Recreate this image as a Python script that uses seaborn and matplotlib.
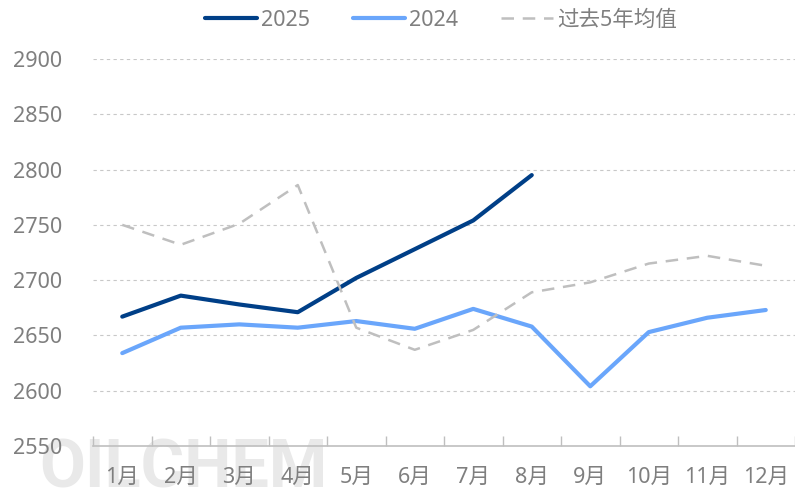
import seaborn as sns
import matplotlib.pyplot as plt
import pandas as pd

# chart values
months = ["1月", "2月", "3月", "4月", "5月", "6月", "7月", "8月", "9月", "10月", "11月", "12月"]
y2025 = [2667, 2686, 2678, 2671, 2702, 2728, 2754, 2795]
y2024 = [2634, 2657, 2660, 2657, 2663, 2656, 2674, 2658, 2604, 2653, 2666, 2673]
avg5 = [2750, 2732, 2751, 2786, 2657, 2637, 2655, 2689, 2698, 2715, 2722, 2713]
yticks = [2550, 2600, 2650, 2700, 2750, 2800, 2850, 2900]

sns.set_style("white")
plt.rcParams["font.family"] = ["Noto Sans", "Noto Sans CJK SC", "DejaVu Sans"]

text_color = "#7f7f7f"
fs = 15.5

fig = plt.figure(figsize=(7.95, 5), dpi=100)
ax = fig.add_axes([0.117, 0.108, 0.883, 0.774])
ax.patch.set_alpha(0)

# faint watermark behind the lower-left corner
fig.text(0.05, 0.025, "OILCHEM", fontsize=48, fontweight="bold", color="#e9e9e9",
         family=["Roboto", "DejaVu Sans"], zorder=-5)

df25 = pd.DataFrame({"x": range(len(y2025)), "y": y2025})
df24 = pd.DataFrame({"x": range(len(y2024)), "y": y2024})
dfav = pd.DataFrame({"x": range(len(avg5)), "y": avg5})

sns.lineplot(data=df25, x="x", y="y", ax=ax, color="#003f87", linewidth=3, label="2025")
sns.lineplot(data=df24, x="x", y="y", ax=ax, color="#6aa6fb", linewidth=3, label="2024")
sns.lineplot(data=dfav, x="x", y="y", ax=ax, color="#bfbfbf", linewidth=1.8,
             linestyle=(0, (5, 3.5)), label="过去5年均值")

ax.set_xlim(-0.5, len(months) - 0.5)
ax.set_ylim(2550, 2900)
ax.set_xticks(range(len(months)))
ax.set_xticklabels(months)
ax.set_xticks([i + 0.5 for i in range(-1, len(months))], minor=True)
ax.set_yticks(yticks)
ax.set_xlabel("")
ax.set_ylabel("")

ax.grid(axis="y", color="#c8c8c8", linestyle=(0, (3, 3)), linewidth=0.8)
ax.set_axisbelow(True)

for s in ["left", "right", "top"]:
    ax.spines[s].set_visible(False)
ax.spines["bottom"].set_color("#bfbfbf")
ax.spines["bottom"].set_linewidth(1.2)

ax.tick_params(axis="x", which="major", length=0, pad=15, labelsize=fs, labelcolor=text_color)
ax.tick_params(axis="x", which="minor", direction="in", length=7, width=1, color="#bfbfbf", bottom=True)
ax.tick_params(axis="y", length=0, pad=22, labelsize=fs, labelcolor=text_color)

leg = ax.legend(loc="center", bbox_to_anchor=(0.496, 1.1), ncol=3, frameon=False,
                fontsize=fs, handlelength=2.4, columnspacing=2.0, handletextpad=0.2)
for t in leg.get_texts():
    t.set_color(text_color)

fig.savefig("out.png", dpi=100)
